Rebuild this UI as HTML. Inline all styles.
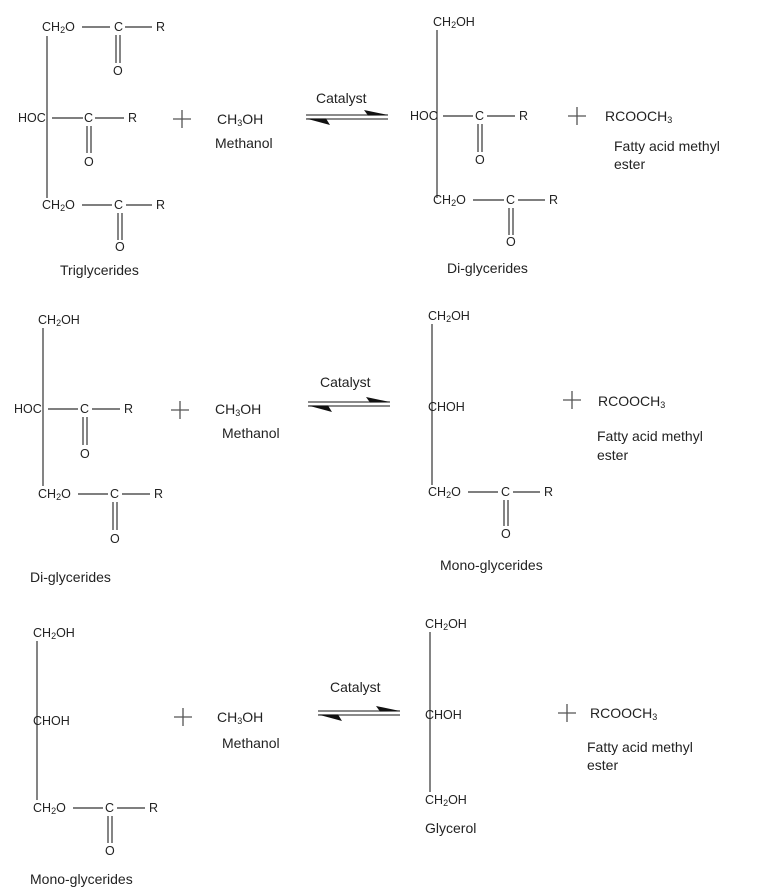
<!DOCTYPE html>
<html><head><meta charset="utf-8"><style>
html,body{margin:0;padding:0;background:#fff;}
svg{display:block;}
text{font-family:"Liberation Sans",Arial,sans-serif;fill:#222;dominant-baseline:central;}
.s{font-size:12.5px;}
.l{font-size:14px;}
.sub{font-size:9px;}
line{stroke:#333;stroke-width:1.2;}
.p{stroke:#555;stroke-width:1.3;}
</style></head><body>
<svg width="763" height="893" viewBox="0 0 763 893" xmlns="http://www.w3.org/2000/svg">
<defs>
<g id="arr">
<line x1="0" y1="0" x2="82" y2="0" style="stroke:#444;stroke-width:1.3"/>
<line x1="0" y1="4" x2="82" y2="4" style="stroke:#444;stroke-width:1.3"/>
<polygon points="58,-5 82,0 62,0.5" fill="#111"/>
<polygon points="0,3.5 20,3.5 24,10" fill="#111"/>
</g>
<g id="plus">
<line x1="-9" y1="0" x2="9" y2="0" class="p"/>
<line x1="0" y1="-9" x2="0" y2="9" class="p"/>
</g>
</defs>

<!-- ROW 1 left: Triglycerides -->
<text x="42" y="27" class="s">CH<tspan class="sub" dy="3">2</tspan><tspan dy="-3">O</tspan></text>
<line x1="82" y1="27" x2="110" y2="27"/>
<text x="114" y="27" class="s">C</text>
<line x1="125" y1="27" x2="152" y2="27"/>
<text x="156" y="27" class="s">R</text>
<line x1="116" y1="35" x2="116" y2="63"/><line x1="120" y1="35" x2="120" y2="63"/>
<text x="113" y="71" class="s">O</text>
<line x1="47" y1="36" x2="47" y2="198"/>
<text x="18" y="118" class="s">HOC</text>
<line x1="52" y1="118" x2="83" y2="118"/>
<text x="84" y="118" class="s">C</text>
<line x1="95" y1="118" x2="124" y2="118"/>
<text x="128" y="118" class="s">R</text>
<line x1="87" y1="126" x2="87" y2="153"/><line x1="91" y1="126" x2="91" y2="153"/>
<text x="84" y="162" class="s">O</text>
<text x="42" y="205" class="s">CH<tspan class="sub" dy="3">2</tspan><tspan dy="-3">O</tspan></text>
<line x1="82" y1="205" x2="112" y2="205"/>
<text x="114" y="205" class="s">C</text>
<line x1="126" y1="205" x2="152" y2="205"/>
<text x="156" y="205" class="s">R</text>
<line x1="118" y1="213" x2="118" y2="240"/><line x1="122" y1="213" x2="122" y2="240"/>
<text x="115" y="247" class="s">O</text>
<text x="60" y="270" class="l">Triglycerides</text>
<use href="#plus" x="182" y="119"/>
<text x="217" y="119" class="l">CH<tspan class="sub" dy="4">3</tspan><tspan dy="-4">OH</tspan></text>
<text x="215" y="143" class="l">Methanol</text>
<text x="316" y="98" class="l">Catalyst</text>
<use href="#arr" x="306" y="115"/>

<!-- ROW 1 right -->
<text x="433" y="22" class="s">CH<tspan class="sub" dy="3">2</tspan><tspan dy="-3">OH</tspan></text>
<line x1="437" y1="30" x2="437" y2="198"/>
<text x="410" y="116" class="s">HOC</text>
<line x1="443" y1="116" x2="473" y2="116"/>
<text x="475" y="116" class="s">C</text>
<line x1="487" y1="116" x2="515" y2="116"/>
<text x="519" y="116" class="s">R</text>
<line x1="478" y1="124" x2="478" y2="152"/><line x1="482" y1="124" x2="482" y2="152"/>
<text x="475" y="160" class="s">O</text>
<text x="433" y="200" class="s">CH<tspan class="sub" dy="3">2</tspan><tspan dy="-3">O</tspan></text>
<line x1="473" y1="200" x2="504" y2="200"/>
<text x="506" y="200" class="s">C</text>
<line x1="518" y1="200" x2="545" y2="200"/>
<text x="549" y="200" class="s">R</text>
<line x1="509" y1="208" x2="509" y2="235"/><line x1="513" y1="208" x2="513" y2="235"/>
<text x="506" y="242" class="s">O</text>
<text x="447" y="268" class="l">Di-glycerides</text>
<use href="#plus" x="577" y="116"/>
<text x="605" y="116" class="l">RCOOCH<tspan class="sub" dy="4">3</tspan></text>
<text x="614" y="146" class="l">Fatty acid methyl</text>
<text x="614" y="164" class="l">ester</text>

<!-- ROW 2 left -->
<text x="38" y="320" class="s">CH<tspan class="sub" dy="3">2</tspan><tspan dy="-3">OH</tspan></text>
<line x1="43" y1="328" x2="43" y2="486"/>
<text x="14" y="409" class="s">HOC</text>
<line x1="48" y1="409" x2="78" y2="409"/>
<text x="80" y="409" class="s">C</text>
<line x1="92" y1="409" x2="120" y2="409"/>
<text x="124" y="409" class="s">R</text>
<line x1="83" y1="417" x2="83" y2="445"/><line x1="87" y1="417" x2="87" y2="445"/>
<text x="80" y="454" class="s">O</text>
<text x="38" y="494" class="s">CH<tspan class="sub" dy="3">2</tspan><tspan dy="-3">O</tspan></text>
<line x1="78" y1="494" x2="108" y2="494"/>
<text x="110" y="494" class="s">C</text>
<line x1="122" y1="494" x2="150" y2="494"/>
<text x="154" y="494" class="s">R</text>
<line x1="113" y1="502" x2="113" y2="530"/><line x1="117" y1="502" x2="117" y2="530"/>
<text x="110" y="539" class="s">O</text>
<text x="30" y="577" class="l">Di-glycerides</text>
<use href="#plus" x="180" y="410"/>
<text x="215" y="409" class="l">CH<tspan class="sub" dy="4">3</tspan><tspan dy="-4">OH</tspan></text>
<text x="222" y="433" class="l">Methanol</text>
<text x="320" y="382" class="l">Catalyst</text>
<use href="#arr" x="308" y="402"/>

<!-- ROW 2 right -->
<text x="428" y="316" class="s">CH<tspan class="sub" dy="3">2</tspan><tspan dy="-3">OH</tspan></text>
<line x1="432" y1="324" x2="432" y2="485"/>
<text x="428" y="407" class="s">CHOH</text>
<text x="428" y="492" class="s">CH<tspan class="sub" dy="3">2</tspan><tspan dy="-3">O</tspan></text>
<line x1="468" y1="492" x2="498" y2="492"/>
<text x="501" y="492" class="s">C</text>
<line x1="513" y1="492" x2="540" y2="492"/>
<text x="544" y="492" class="s">R</text>
<line x1="504" y1="500" x2="504" y2="526"/><line x1="508" y1="500" x2="508" y2="526"/>
<text x="501" y="534" class="s">O</text>
<text x="440" y="565" class="l">Mono-glycerides</text>
<use href="#plus" x="572" y="400"/>
<text x="598" y="401" class="l">RCOOCH<tspan class="sub" dy="4">3</tspan></text>
<text x="597" y="436" class="l">Fatty acid methyl</text>
<text x="597" y="455" class="l">ester</text>

<!-- ROW 3 left -->
<text x="33" y="633" class="s">CH<tspan class="sub" dy="3">2</tspan><tspan dy="-3">OH</tspan></text>
<line x1="37" y1="641" x2="37" y2="800"/>
<text x="33" y="721" class="s">CHOH</text>
<text x="33" y="808" class="s">CH<tspan class="sub" dy="3">2</tspan><tspan dy="-3">O</tspan></text>
<line x1="73" y1="808" x2="103" y2="808"/>
<text x="105" y="808" class="s">C</text>
<line x1="117" y1="808" x2="145" y2="808"/>
<text x="149" y="808" class="s">R</text>
<line x1="108" y1="816" x2="108" y2="843"/><line x1="112" y1="816" x2="112" y2="843"/>
<text x="105" y="851" class="s">O</text>
<text x="30" y="879" class="l">Mono-glycerides</text>
<use href="#plus" x="183" y="717"/>
<text x="217" y="717" class="l">CH<tspan class="sub" dy="4">3</tspan><tspan dy="-4">OH</tspan></text>
<text x="222" y="743" class="l">Methanol</text>
<text x="330" y="687" class="l">Catalyst</text>
<use href="#arr" x="318" y="711"/>

<!-- ROW 3 right -->
<text x="425" y="624" class="s">CH<tspan class="sub" dy="3">2</tspan><tspan dy="-3">OH</tspan></text>
<line x1="430" y1="632" x2="430" y2="792"/>
<text x="425" y="715" class="s">CHOH</text>
<text x="425" y="800" class="s">CH<tspan class="sub" dy="3">2</tspan><tspan dy="-3">OH</tspan></text>
<text x="425" y="828" class="l">Glycerol</text>
<use href="#plus" x="567" y="713"/>
<text x="590" y="713" class="l">RCOOCH<tspan class="sub" dy="4">3</tspan></text>
<text x="587" y="747" class="l">Fatty acid methyl</text>
<text x="587" y="765" class="l">ester</text>
</svg>
</body></html>
